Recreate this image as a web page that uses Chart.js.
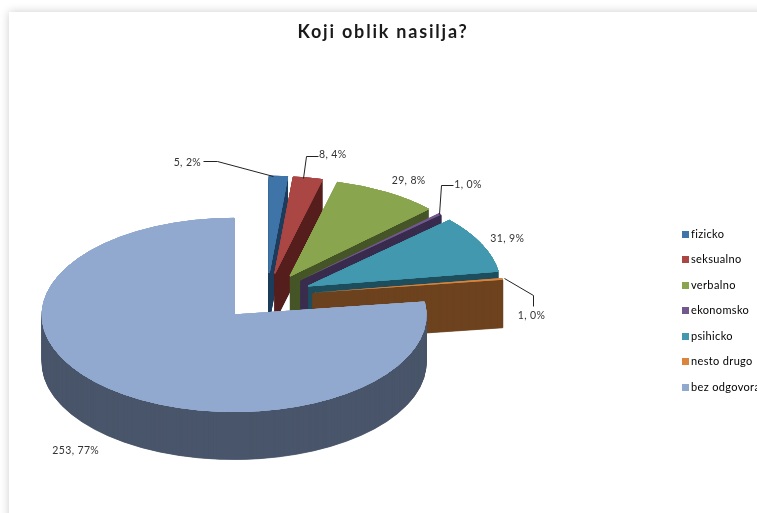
<!DOCTYPE html>
<html><head><meta charset="utf-8">
<script src="https://cdn.jsdelivr.net/npm/chart.js@4"></script>
<style>
html,body{margin:0;padding:0;width:757px;height:513px;overflow:hidden;background:#fff}
#panel{position:absolute;left:9px;top:12px;width:800px;height:560px;background:#fff;box-shadow:0 0 9px rgba(0,0,0,.2)}
#c{position:absolute;left:0;top:0}
</style></head><body>
<div id="panel"></div>
<canvas id="c" width="764" height="513"></canvas>
<script>
const categories=['fizicko','seksualno','verbalno','ekonomsko','psihicko','nesto drugo','bez odgovora'];
const counts=[5,8,29,1,31,1,253];
const percentLabels=['2%','4%','8%','0%','9%','0%','77%'];
const topColors=['#3f74a8','#aa4643','#89a54e','#71588f','#4198af','#db843d','#92a9cf'];
const sideColors=['#1f3d5c','#561f1e','#475628','#3a2c4e','#1f4f5d','#6e431f','#4a566b'];
const explode=[46,46,46,46,46,46,50];
const labelOffsets=[[-91,-14],[25,-23],[22,-12],[28,-29],[26,-5],[29,37],[-32,63]];
const leaders=[[[-5,0],[-61,-15],[-75,-15]],[[-5,0],[-2,-22],[10,-22]],null,[[-1,0],[1,-29],[13,-29]],null,[[1,-1],[30,16],[30,27]],null];
const view={cx:267,cy:296,squash:0.503,depth:48,radius:192};

const pie3d={id:'pie3d',
 beforeDraw(chart){
  const ctx=chart.ctx,t=chart.titleBlock;
  ctx.letterSpacing='0.35px';
  if(!t._spaced){t._spaced=true;const d=t.draw.bind(t);t.draw=function(){ctx.save();ctx.letterSpacing='1.8px';d();ctx.restore();};}
 },
 beforeDatasetDraw(chart,args){
  const ctx=chart.ctx,arcs=args.meta.data;
  const place=(a,i,dy)=>{const m=(a.startAngle+a.endAngle)/2;
    ctx.translate(view.cx+explode[i]*Math.cos(m),view.cy+dy+explode[i]*Math.sin(m)*view.squash);
    ctx.scale(1,view.squash);ctx.translate(-a.x,-a.y);};
  arcs.forEach((a,i)=>{
    const o=a.options,thin=a.circumference<0.05;
    a.options={...o,backgroundColor:sideColors[i],borderColor:sideColors[i],borderWidth:1};
    for(let d=view.depth;d>=1;d-=0.5){ctx.save();place(a,i,d);a.draw(ctx);ctx.restore();}
    a.options={...o,backgroundColor:topColors[i],borderColor:topColors[i],borderWidth:thin?0:1};
    for(let n=0;n<(thin?2:6);n++){ctx.save();place(a,i,0);a.draw(ctx);ctx.restore();}
    a.options=o;
  });
  ctx.save();
  ctx.font='10.5px Lato';ctx.fillStyle='#333';ctx.textAlign='center';ctx.textBaseline='middle';
  ctx.strokeStyle='#222';ctx.lineWidth=1;
  arcs.forEach((a,i)=>{
    const m=(a.startAngle+a.endAngle)/2,r=a.outerRadius+explode[i];
    const ax=view.cx+r*Math.cos(m),ay=view.cy+r*Math.sin(m)*view.squash;
    if(leaders[i]){ctx.beginPath();leaders[i].forEach((p,j)=>{const x=Math.round(ax+p[0])+.5,y=Math.round(ay+p[1])+.5;j?ctx.lineTo(x,y):ctx.moveTo(x,y);});ctx.stroke();}
    ctx.fillText(counts[i]+', '+percentLabels[i],ax+labelOffsets[i][0],ay+labelOffsets[i][1]);
  });
  ctx.restore();
  return false;
 },
 afterDraw(chart){
  const ctx=chart.ctx;
  chart.legend.legendHitBoxes.forEach((h,i)=>{
    ctx.fillStyle=topColors[i];
    ctx.fillRect(Math.round(h.left+5.5),Math.round(h.top+(h.height-7)/2),7,7);
  });
 }};

new Chart(document.getElementById('c'),{type:'pie',
 data:{labels:categories,datasets:[{data:counts,backgroundColor:topColors,borderWidth:0,radius:view.radius}]},
 plugins:[pie3d],
 options:{responsive:false,animation:false,
  layout:{padding:{right:-2}},
  plugins:{
   tooltip:{enabled:false},
   title:{display:true,text:'Koji oblik nasilja?',color:'#1a1a1a',font:{family:'Lato',size:18,weight:'bold'},padding:{top:21,bottom:66}},
   legend:{position:'right',fullSize:false,labels:{color:'#333',font:{family:'Lato',size:11},boxWidth:9,boxHeight:9,padding:14.5,
     generateLabels:c=>categories.map((t,i)=>({text:t,index:i,fillStyle:'rgba(0,0,0,0)',strokeStyle:'rgba(0,0,0,0)',lineWidth:0,hidden:false}))}}
  }}});
</script></body></html>
